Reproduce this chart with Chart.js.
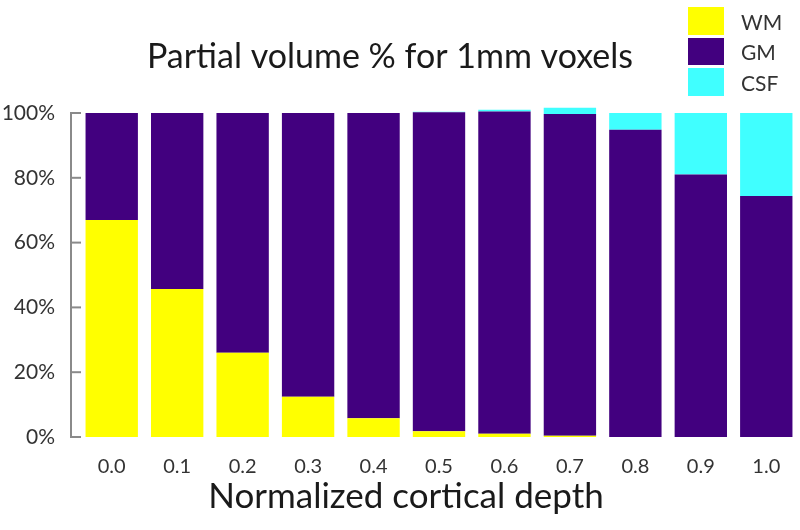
<!DOCTYPE html>
<html>
<head>
<meta charset="utf-8">
<script src="https://cdn.jsdelivr.net/npm/chart.js@4"></script>
<style>
html,body{margin:0;padding:0;background:#fff;}
#wrap{width:800px;height:530px;position:relative;}
</style>
</head>
<body>
<div id="wrap"><canvas id="c" width="800" height="530"></canvas></div>
<script>
const categories = ['0.0','0.1','0.2','0.3','0.4','0.5','0.6','0.7','0.8','0.9','1.0'];
const wmValues  = [67, 45.7, 26, 12.4, 5.8, 1.8, 1.0, 0.4, 0, 0, 0];
const gmValues  = [33, 54.3, 74, 87.6, 94.2, 98.4, 99.5, 99.3, 94.8, 81, 74.4];
const csfValues = [0, 0, 0, 0, 0, 0.2, 0.5, 1.9, 5.2, 19, 25.6];
const yTicks = [0, 20, 40, 60, 80, 100];
const seriesNames = ['WM', 'GM', 'CSF'];
const titleText = 'Partial volume % for 1mm voxels';
const xTitleText = 'Normalized cortical depth';

const FONT = 'Lato, "Open Sans", sans-serif';
const colors = ['#FFFF00', '#42007F', '#40FFFF'];

const customDraw = {
  id: 'customDraw',
  afterDraw(chart) {
    const ctx = chart.ctx;
    const y = chart.scales.y;
    const area = chart.chartArea;
    ctx.save();
    ctx.strokeStyle = '#8a8a8a';
    ctx.lineWidth = 2;
    const ax = area.left - 8;
    ctx.beginPath();
    ctx.moveTo(ax, y.getPixelForValue(0));
    ctx.lineTo(ax, y.getPixelForValue(100));
    ctx.stroke();
    yTicks.forEach(v => {
      const py = y.getPixelForValue(v);
      ctx.beginPath();
      ctx.moveTo(ax - 1, py);
      ctx.lineTo(ax + 10, py);
      ctx.stroke();
    });
    ctx.fillStyle = '#1a1a1a';
    ctx.textAlign = 'center';
    ctx.textBaseline = 'middle';
    ctx.font = '34px ' + FONT;
    ctx.fillText(titleText, 390, 57);
    ctx.font = '35px ' + FONT;
    ctx.fillText(xTitleText, 406, 497);
    ctx.font = '21px ' + FONT;
    ctx.textAlign = 'left';
    const boxes = [[7, 35], [38, 65], [68, 96]];
    seriesNames.forEach((n, i) => {
      ctx.fillStyle = colors[i];
      ctx.fillRect(688, boxes[i][0], 36, boxes[i][1] - boxes[i][0]);
      ctx.fillStyle = '#333';
      ctx.fillText(n, 741, (boxes[i][0] + boxes[i][1]) / 2 + 2);
    });
    ctx.restore();
  }
};

new Chart(document.getElementById('c'), {
  type: 'bar',
  data: {
    labels: categories,
    datasets: [
      { label: seriesNames[0], data: wmValues, backgroundColor: colors[0], clip: false },
      { label: seriesNames[1], data: gmValues, backgroundColor: colors[1], clip: false },
      { label: seriesNames[2], data: csfValues, backgroundColor: colors[2], clip: false }
    ]
  },
  options: {
    responsive: false,
    animation: false,
    layout: { padding: { top: 113, right: 1, left: 0, bottom: 0 } },
    plugins: { legend: { display: false }, title: { display: false }, tooltip: { enabled: false } },
    datasets: { bar: { barPercentage: 0.8, categoryPercentage: 1.0 } },
    scales: {
      x: {
        stacked: true,
        grid: { display: false },
        border: { display: false },
        ticks: { color: '#333', font: { family: FONT, size: 20 }, padding: 10 },
        afterFit(s) { s.height = 93; }
      },
      y: {
        stacked: true,
        min: 0, max: 100,
        grid: { display: false },
        border: { display: false },
        afterBuildTicks(s) { s.ticks = yTicks.map(v => ({ value: v })); },
        ticks: { color: '#333', font: { family: FONT, size: 21 }, padding: 16, callback: v => v + '%' },
        afterFit(s) { s.width = 79; }
      }
    }
  },
  plugins: [customDraw]
});
</script>
</body>
</html>
